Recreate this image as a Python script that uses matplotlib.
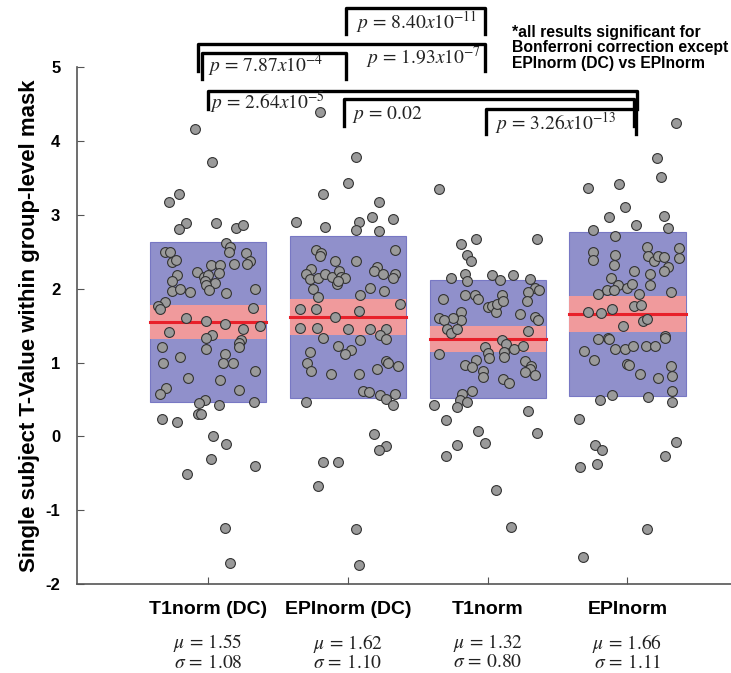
#!/usr/bin/env python3
"""
Single-subject T-values within group-level mask, four normalisation pipelines.
notBoxPlot-style: jittered points, mean +/- SD box, 95% CI band, mean line.
Output: out.png
"""

import numpy as np
import matplotlib; matplotlib.use('Agg')
import matplotlib.pyplot as plt
from matplotlib.patches import Rectangle
from matplotlib.transforms import blended_transform_factory

plt.rcParams.update({'font.family': ['Liberation Sans', 'DejaVu Sans'],
                     'mathtext.fontset': 'stix'})

groups = ['T1norm (DC)', 'EPInorm (DC)', 'T1norm', 'EPInorm']
means = [1.55, 1.62, 1.32, 1.66]
sds = [1.08, 1.10, 0.80, 1.11]
n_subj = 81

# per-subject values (y) and horizontal jitter (dx)
g1_dx = [-0.09, 0.03, -0.21, -0.28, -0.16, -0.21, 0.06, 0.20, 0.25, 0.13,
         0.16, 0.15, -0.31, -0.27, -0.26, -0.23, 0.27, 0.30, 0.28, 0.02,
         0.09, 0.08, 0.19, -0.08, -0.03, 0.00, -0.02, 0.05, -0.01, 0.01,
         -0.22, -0.26, -0.26, -0.20, -0.13, 0.13, 0.34, -0.31, -0.36, -0.34,
         0.32, -0.16, -0.01, 0.12, 0.25, 0.37, -0.28, 0.03, -0.01, 0.24,
         0.22, 0.22, -0.33, -0.01, -0.20, -0.32, 0.12, 0.11, 0.18, 0.34,
         -0.14, 0.09, -0.30, -0.34, 0.22, -0.02, -0.06, 0.33, 0.08, -0.07,
         -0.05, -0.33, -0.22, 0.04, 0.13, 0.02, -0.15, 0.34, 0.12, 0.16]
g1_y = [4.16, 3.72, 3.28, 3.17, 2.89, 2.81, 2.89, 2.83, 2.86, 2.62,
        2.56, 2.50, 2.50, 2.50, 2.36, 2.39, 2.48, 2.38, 2.33, 2.32,
        2.32, 2.22, 2.33, 2.23, 2.16, 2.19, 2.10, 2.08, 2.05, 1.98,
        2.19, 2.10, 1.97, 2.00, 1.96, 1.94, 2.00, 1.82, 1.77, 1.73,
        1.74, 1.61, 1.56, 1.52, 1.46, 1.49, 1.42, 1.37, 1.34, 1.31,
        1.27, 1.21, 1.21, 1.18, 1.07, 0.99, 1.11, 1.00, 1.00, 0.89,
        0.79, 0.77, 0.66, 0.58, 0.63, 0.50, 0.45, 0.47, 0.42, 0.31,
        0.30, 0.23, 0.20, 0.01, -0.10, -0.30, -0.51, -0.40, -1.24, -1.71]

g2_dx = [0.06, 0.00, -0.18, 0.22, 0.17, 0.32, -0.37, -0.16, 0.08, 0.06,
         0.22, 0.34, -0.23, -0.19, -0.20, -0.09, 0.06, 0.21, 0.19, 0.25,
         0.34, 0.32, -0.26, -0.30, -0.27, -0.21, -0.16, -0.11, -0.06, -0.05,
         -0.02, -0.08, -0.07, -0.25, -0.21, 0.16, 0.26, 0.09, 0.37, -0.34,
         -0.23, 0.08, -0.09, -0.34, -0.22, 0.00, 0.16, 0.27, 0.23, 0.27,
         -0.18, 0.09, -0.07, 0.02, -0.02, -0.27, -0.29, -0.26, -0.12, 0.08,
         0.21, 0.27, 0.29, 0.36, 0.11, 0.15, 0.23, 0.27, 0.34, 0.32,
         -0.30, 0.19, 0.27, 0.22, -0.18, -0.07, -0.21, 0.06, 0.08, -0.20]
g2_y = [3.79, 3.43, 3.28, 3.17, 2.97, 2.95, 2.90, 2.84, 2.90, 2.80,
        2.78, 2.53, 2.53, 2.49, 2.44, 2.37, 2.37, 2.29, 2.24, 2.20,
        2.20, 2.14, 2.27, 2.20, 2.13, 2.14, 2.20, 2.16, 2.24, 2.16,
        2.15, 2.06, 2.10, 2.00, 1.89, 2.01, 1.97, 1.91, 1.79, 1.73,
        1.73, 1.70, 1.62, 1.47, 1.47, 1.45, 1.45, 1.45, 1.37, 1.32,
        1.34, 1.30, 1.23, 1.17, 1.11, 1.15, 1.00, 0.88, 0.84, 0.84,
        0.91, 1.02, 0.99, 0.96, 0.61, 0.60, 0.56, 0.51, 0.57, 0.42,
        0.46, 0.03, -0.13, -0.19, -0.34, -0.34, -0.67, -1.25, -1.74, 4.40]

g3_dx = [-0.35, 0.35, -0.08, -0.19, -0.15, -0.12, -0.26, -0.16, -0.15, 0.03,
         0.09, 0.18, 0.30, 0.34, 0.37, 0.29, 0.28, -0.32, -0.16, -0.09,
         -0.07, 0.00, 0.03, 0.06, 0.07, 0.10, 0.11, -0.19, -0.19, -0.25,
         -0.35, -0.31, -0.29, -0.26, -0.22, 0.23, 0.34, 0.36, 0.29, 0.10,
         0.13, -0.02, 0.00, 0.01, 0.12, 0.12, 0.19, 0.25, -0.35, -0.08,
         -0.16, -0.11, -0.03, -0.03, 0.27, 0.31, 0.30, 0.27, 0.34, 0.11,
         0.15, -0.11, -0.18, -0.20, -0.15, -0.22, -0.38, 0.29, -0.30, -0.07,
         -0.02, 0.35, -0.22, -0.30, 0.06, 0.17]
g3_y = [3.35, 2.68, 2.68, 2.61, 2.46, 2.37, 2.15, 2.20, 2.11, 2.19,
        2.12, 2.19, 2.13, 2.01, 1.98, 1.95, 1.83, 1.86, 1.92, 1.92,
        1.86, 1.76, 1.77, 1.69, 1.79, 1.92, 1.83, 1.69, 1.58, 1.60,
        1.61, 1.58, 1.46, 1.40, 1.46, 1.66, 1.62, 1.58, 1.43, 1.30,
        1.25, 1.21, 1.13, 1.06, 1.15, 1.07, 1.19, 1.23, 1.11, 1.04,
        0.97, 0.94, 0.89, 0.81, 1.02, 0.96, 0.91, 0.87, 0.83, 0.78,
        0.72, 0.62, 0.57, 0.50, 0.47, 0.40, 0.42, 0.35, 0.22, 0.07,
        -0.09, 0.05, -0.12, -0.27, -0.73, -1.23]

g4_dx = [0.35, 0.21, 0.24, -0.28, -0.06, -0.02, -0.13, 0.06, 0.26, 0.29,
         -0.25, -0.09, -0.25, -0.25, -0.09, -0.10, 0.14, 0.15, 0.19, 0.22,
         0.26, 0.29, 0.26, 0.37, 0.37, 0.05, 0.16, 0.16, -0.12, -0.07,
         0.00, 0.03, 0.08, -0.15, -0.10, -0.21, 0.31, -0.28, -0.19, -0.11,
         0.05, 0.10, 0.11, 0.14, -0.03, -0.21, -0.14, -0.13, -0.09, -0.02,
         0.04, 0.13, 0.20, 0.27, 0.27, -0.31, -0.24, 0.00, 0.01, 0.09,
         0.22, 0.31, 0.32, 0.32, 0.32, -0.11, -0.20, 0.15, -0.35, -0.23,
         -0.18, -0.22, -0.34, 0.27, 0.35, 0.14, -0.32]
g4_y = [4.25, 3.77, 3.52, 3.37, 3.42, 3.11, 2.97, 2.86, 2.98, 2.82,
        2.80, 2.71, 2.50, 2.39, 2.46, 2.32, 2.57, 2.44, 2.37, 2.44,
        2.43, 2.29, 2.24, 2.55, 2.42, 2.24, 2.20, 2.05, 2.14, 2.05,
        2.01, 2.06, 1.93, 1.98, 1.99, 1.93, 1.96, 1.68, 1.67, 1.72,
        1.77, 1.78, 1.57, 1.59, 1.49, 1.32, 1.34, 1.32, 1.19, 1.18,
        1.23, 1.23, 1.23, 1.36, 1.33, 1.16, 1.04, 0.98, 0.97, 0.85,
        0.79, 0.96, 0.82, 0.61, 0.47, 0.56, 0.49, 0.53, 0.23, -0.12,
        -0.18, -0.38, -0.42, -0.27, -0.08, -1.25, -1.63]

all_dx = [g1_dx, g2_dx, g3_dx, g4_dx]
all_y = [g1_y, g2_y, g3_y, g4_y]

# pairwise p-values, in the order the brackets are drawn
p_labels = [r'$p\,=\,8.40x10^{-11}$', r'$p\,=\,1.93x10^{-7}$', r'$p\,=\,7.87x10^{-4}$',
            r'$p\,=\,2.64x10^{-5}$', r'$p\,=\,0.02$', r'$p\,=\,3.26x10^{-13}$']

fig = plt.figure(figsize=(7.31, 6.73), dpi=100)
ax = fig.add_axes([0.1053, 0.1322, 0.8947, 0.7677])

box_w = 0.83
for i, (m, s) in enumerate(zip(means, sds)):
    xc = i + 1
    ci = 1.96 * s / np.sqrt(n_subj)
    ax.add_patch(Rectangle((xc - box_w / 2, m - s), box_w, 2 * s,
                           facecolor='#9090cb', edgecolor='#7878c4', lw=0.8, zorder=1))
    ax.add_patch(Rectangle((xc - box_w / 2, m - ci), box_w, 2 * ci,
                           facecolor='#f09a9c', edgecolor='none', zorder=2))
    ax.plot([xc - box_w / 2, xc + box_w / 2], [m, m], color='#e8202a', lw=2.2, zorder=3)
    ax.scatter(xc + np.array(all_dx[i]), all_y[i], s=50, facecolor='#9a9a9a',
               edgecolor='#333333', linewidths=0.8, zorder=4)

ax.set_xlim(0.064, 4.74)
ax.set_ylim(-2, 5)
ax.set_yticks(range(-2, 6))
ax.set_yticklabels([str(v) for v in range(-2, 6)], fontweight='bold', fontsize=12)
ax.set_xticks([1, 2, 3, 4])
ax.set_xticklabels(groups, fontweight='bold', fontsize=14)
ax.tick_params(axis='y', direction='in', length=5, pad=12, color='#555555')
ax.tick_params(axis='x', direction='in', length=5, pad=12, color='#555555')
for sp in ['top', 'right']:
    ax.spines[sp].set_visible(False)
for sp in ['left', 'bottom']:
    ax.spines[sp].set_color('#555555')
    ax.spines[sp].set_linewidth(1.2)
ax.set_ylabel('Single subject T-Value within group-level mask', fontweight='bold',
              fontsize=16, labelpad=4)

# mean / sd labels under each group
tr = blended_transform_factory(ax.transData, fig.transFigure)
for i, (m, s) in enumerate(zip(means, sds)):
    ax.text(i + 1, 0.044, r'$\mu\,=\,%.2f$' % m, transform=tr, ha='center',
            va='center', fontsize=14, color='#222222')
    ax.text(i + 1, 0.015, r'$\sigma\,=\,%.2f$' % s, transform=tr, ha='center',
            va='center', fontsize=14, color='#222222')

# significance brackets: x0, x1, top, leg bottom, label x, label baseline, align
brackets = [(1.99, 2.98, 5.80, 5.45, 2.06, 5.53, 'left'),
            (0.93, 2.98, 5.31, 4.95, 2.955, 5.04, 'right'),
            (0.955, 1.99, 5.20, 4.84, 1.00, 4.93, 'left'),
            (1.00, 4.07, 4.68, 4.43, 1.014, 4.43, 'left'),
            (1.97, 4.05, 4.57, 4.20, 2.03, 4.30, 'left'),
            (2.99, 4.06, 4.43, 4.10, 3.05, 4.16, 'left')]
for (x0, x1, top, bot, tx, ty, ha), lab in zip(brackets, p_labels):
    ax.plot([x0, x0, x1, x1], [bot, top, top, bot], color='black', lw=2.4,
            solid_joinstyle='round', clip_on=False, zorder=5)
    ax.text(tx, ty, lab, ha=ha, va='baseline', fontsize=14, color='#222222',
            clip_on=False, zorder=6)

fig.text(0.700, 0.9287, '*all results significant for\nBonferroni correction except\nEPInorm (DC) vs EPInorm',
         ha='left', va='center', fontsize=11.3, fontweight='bold', linespacing=1.02)

fig.savefig('out.png', dpi=100)
print('Saved -> out.png')
